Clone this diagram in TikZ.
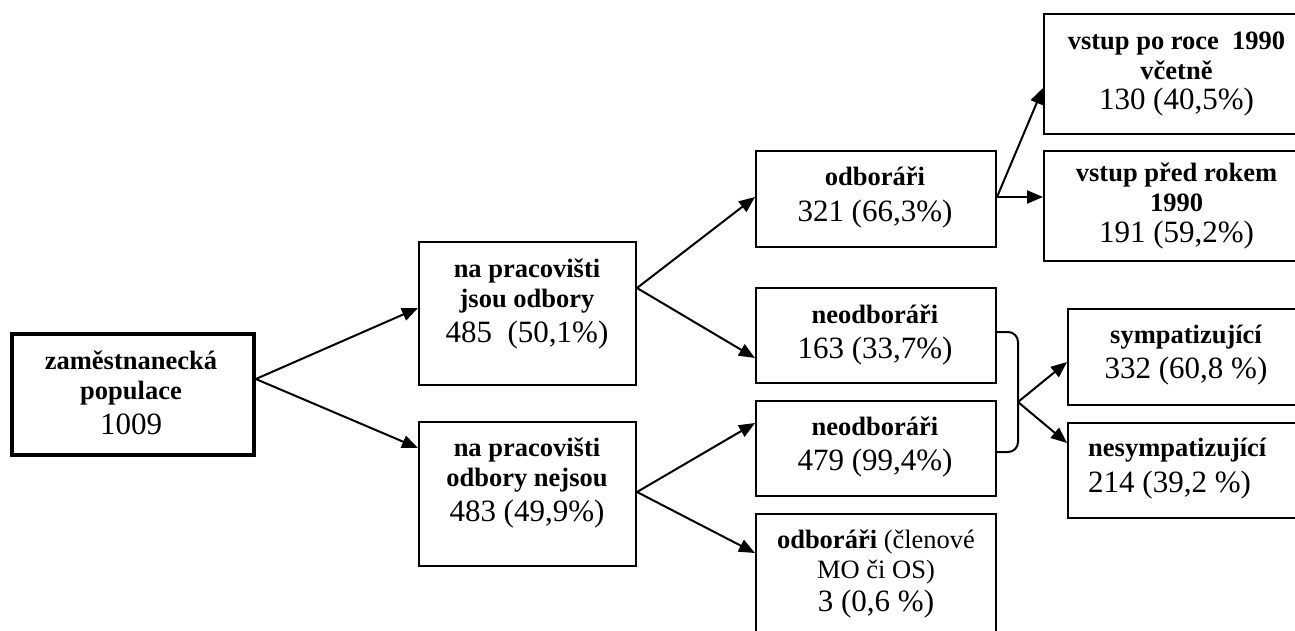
\documentclass[tikz,border=0pt]{standalone}
\usepackage{fontspec}
\setmainfont{Liberation Serif}
\usetikzlibrary{arrows.meta}
\newcommand{\numf}{\fontsize{31}{35}\selectfont\mdseries}
\newcommand{\regf}{\mdseries}
\tikzset{
  box/.style={draw, line width=2pt, rectangle, inner sep=0pt, anchor=north west},
  rootbox/.style={box, line width=3.8pt},
  txt/.style={align=center, inner sep=0pt, font=\fontsize{26.5}{30}\selectfont\bfseries},
  arr/.style={line width=2pt, -{Triangle[length=16pt,width=13pt]}},
  brk/.style={line width=2pt, rounded corners=10pt}
}
\begin{document}
\begin{tikzpicture}[x=1pt,y=-1pt]
\useasboundingbox (0,0) rectangle (1295,630);
\clip (0,0) rectangle (1295,630);
% boxes
\node[rootbox, minimum width=242pt, minimum height=121pt] (A) at (10,332) {};
\node[box, minimum width=217pt, minimum height=143pt] (B) at (418,241) {};
\node[box, minimum width=217pt, minimum height=144pt] (C) at (418,421) {};
\node[box, minimum width=240pt, minimum height=96pt] (D) at (755,150) {};
\node[box, minimum width=240pt, minimum height=95pt] (E) at (755,287) {};
\node[box, minimum width=240pt, minimum height=95pt] (F) at (755,400) {};
\node[box, minimum width=240pt, minimum height=130pt] (G) at (755,513) {};
\node[box, minimum width=267pt, minimum height=120pt] (H) at (1043,13) {};
\node[box, minimum width=267pt, minimum height=110pt] (I) at (1043,150) {};
\node[box, minimum width=238pt, minimum height=96pt] (J) at (1067,308) {};
\node[box, minimum width=238pt, minimum height=95pt] (K) at (1067,422) {};
% texts
\node[txt] (tA) at (131,392.5) {zaměstnanecká\\populace\\[5pt]{\numf 1009}};
\node[txt] (tB) at (527,303.5) {na pracovišti\\jsou odbory\\[5pt]{\numf 485\ \ (50,1\%)}};
\node[txt] (tC) at (527,483) {na pracovišti\\odbory nejsou\\[5pt]{\numf 483 (49,9\%)}};
\node[txt] (tD) at (875,197.5) {odboráři\\[6pt]{\numf 321 (66,3\%)}};
\node[txt] (tE) at (875,334.5) {neodboráři\\[5pt]{\numf 163 (33,7\%)}};
\node[txt] (tF) at (875,446.5) {neodboráři\\[5pt]{\numf 479 (99,4\%)}};
\node[txt] (tG) at (876,574) {odboráři {\regf (členové}\\{\regf MO či OS)}\\[3pt]{\numf 3 (0,6 \%)}};
\node[txt] (tH) at (1176.5,74) {vstup po roce\ \ 1990\\včetně\\{\numf 130 (40,5\%)}};
\node[txt] (tI) at (1176.5,206) {vstup před rokem\\1990\\[1pt]{\numf 191 (59,2\%)}};
\node[txt] (tJ) at (1186,355) {sympatizující\\[5pt]{\numf 332 (60,8 \%)}};
\node[txt, align=left, anchor=west] (tK) at (1088,469) {nesympatizující\\[6pt]{\numf 214 (39,2 \%)}};
% connectors
\draw[arr] (A.east |- 0,379) -- (B.west |- 0,308);
\draw[arr] (A.east |- 0,379) -- (C.west |- 0,448);
\draw[arr] (B.east |- 0,288) -- (D.west |- 0,197);
\draw[arr] (B.east |- 0,288) -- (E.west |- 0,358);
\draw[arr] (C.east |- 0,492) -- (F.west |- 0,423);
\draw[arr] (C.east |- 0,492) -- (G.west |- 0,553);
\draw[arr] (D.east |- 0,197) -- (H.west |- 0,88);
\draw[arr] (D.east |- 0,197) -- (I.west |- 0,197);
\coordinate (br) at (1018,402);
\draw[brk] (E.east |- 0,332) -- (br |- 0,332) -- (br |- 0,452) -- (F.east |- 0,452);
\draw[arr] (br) -- (J.west |- 0,362);
\draw[arr] (br) -- (K.west |- 0,443);
\end{tikzpicture}
\end{document}
